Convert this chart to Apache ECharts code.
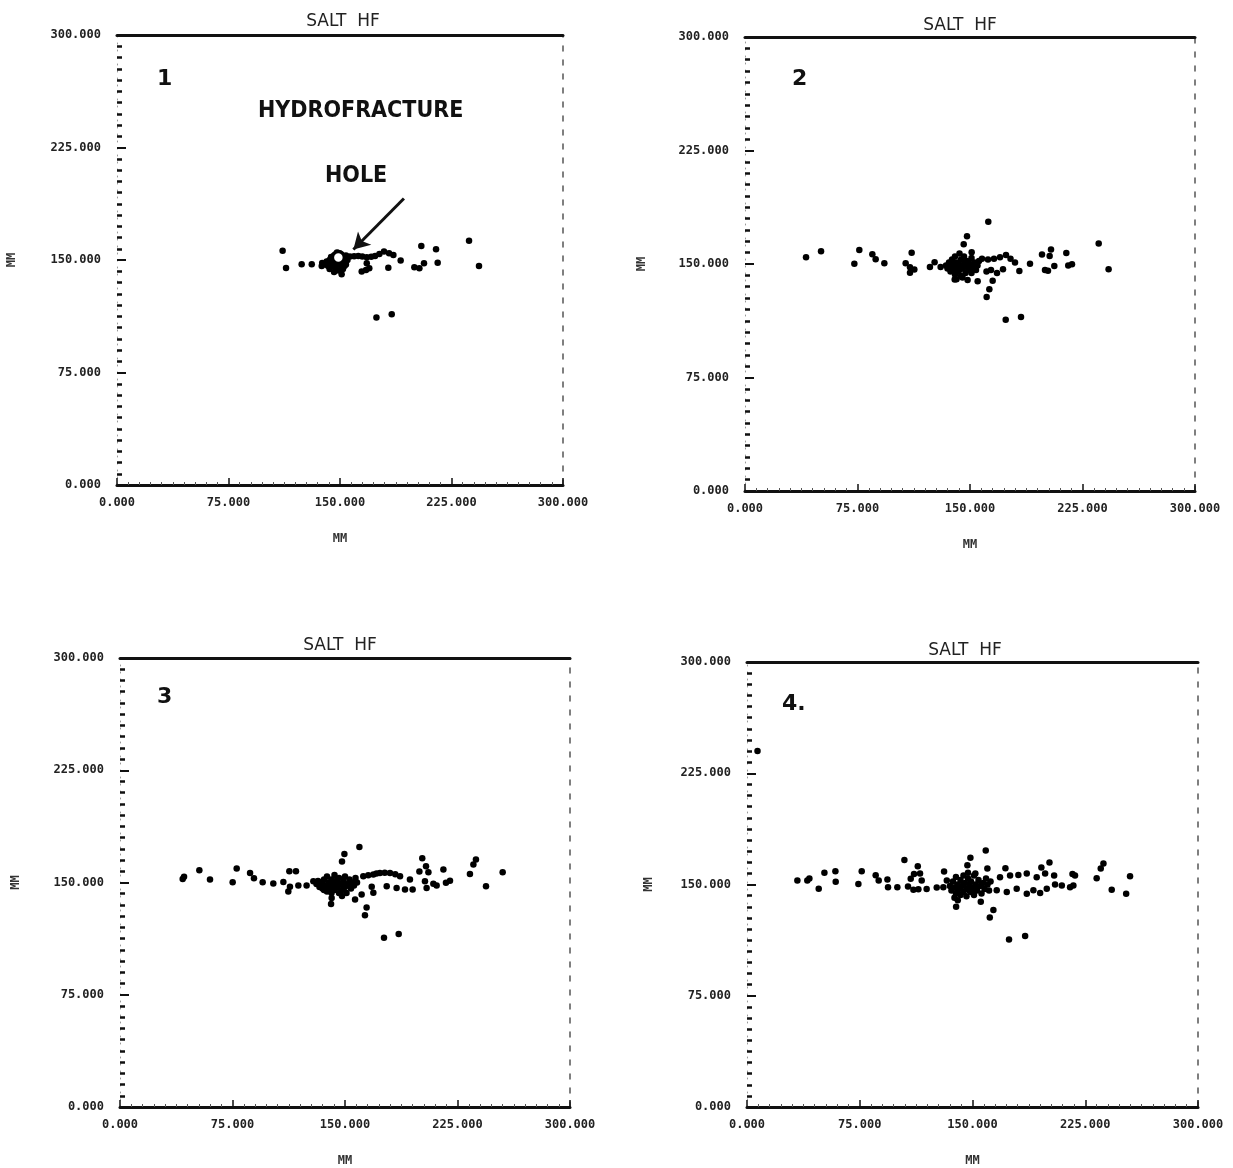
<!DOCTYPE html>
<html>
<head>
<meta charset="utf-8">
<script src="https://cdn.jsdelivr.net/npm/echarts@6/dist/echarts.min.js"></script>
<style>
html,body{margin:0;padding:0;background:#fff;}
#chart{width:1233px;height:1168px;}
</style>
</head>
<body>
<div id="chart"></div>
<script>
// ---- DATA (values in MM) ----
const tickValues = [0, 75, 150, 225, 300];
const panelTitle = 'SALT  HF';
const axisName = 'MM';

const panel1Points = [
  [111.4,156.2],[113.7,144.7],[124.2,147.1],[131,147.1],[137.7,146],
  [138,148],[140,147],[141,149],[142,146],[143,150],[144,148],[145,146],[145,151],[146,153],[147,149],
  [147,145],[148,155],[149,147],[149,143],[150,150],[150,154],[151,146],[152,152],[152,144],[153,149],
  [154,147],[154,153],[155,150],[144,152],[146,142],[151.1,140.5],[143,144],[151,148],[153,146],
  [156.7,152.3],[162.3,152.7],[168,151.8],[173.6,152.7],[179.6,155.6],[185.9,153.4],
  [159.5,152.5],[165,152.3],[171,152.2],[176.5,154],[183,154.5],
  [168,147.8],[164.6,142.3],[167.5,143.4],[169.7,144.5],[182.5,144.9],[190.8,149.6],
  [200,145.1],[203.4,144.5],[206.5,147.8],[204.7,159.4],[214.6,157.1],[215.7,148.2],
  [236.8,162.9],[243.5,146],[174.5,111.6],[184.8,113.8]
];
const panel1Hole = [[148.9,151.6]];

const panel2Points = [
  [40.7,154.4],[50.7,158.4],[72.9,150.2],[76.2,159.3],[84.9,156.4],[87.1,153.1],[92.9,150.5],
  [107.1,150.5],[110,147.9],[112.9,146.3],[110,144.3],[111.1,157.5],[123.3,148],[126.4,151.2],
  [130.4,148],[135.6,148.9],
  [134,149],[135,147],[136,151],[137,148],[137,145],[138,153],[139,150],[139,146],[140,143],[140,155],
  [141,148],[142,151],[142,145],[143,157],[143,149],[144,153],[144,142],[145,147],[146,150],[146,155],
  [147,144],[148,148],[148,152],[149,146],[150,150],[151,144],[151,154],[152,148],[153,151],[154,146],
  [155,149],[156,152],[141,140],[145,141],[138,147],[140,151],[143,146],[147,151],[150,146],[153,148],
  [139.8,139.7],[145.8,163],[148,168.3],[151.1,157.7],[148.4,139.4],[155.1,138.6],[162.2,178],
  [162.9,133.3],[161.1,128.2],[165.1,139],
  [158,153.5],[162,153],[166,153.5],[170,154.5],[174,156],[177,153.5],[180,151],
  [161,145],[164,146],[168,144],[172,146.5],[182.9,145.4],
  [173.8,113.2],[184,115],[190,150.2],[198,156.2],[203.1,155.3],[204,159.5],[200,146.1],[202,145.6],
  [206.2,148.7],[214.2,157.3],[215.5,149],[218,149.8],[235.8,163.5],[242.4,146.5]
];

const panel3Points = [
  [41.8,152.4],[42.7,153.8],[52.9,158.2],[60,152],[77.8,159.3],[75.1,150.2],[86.7,156.4],[89.3,152.9],
  [95.1,150.2],[102.2,149.3],[108.9,150.4],[112.9,157.6],[117.3,157.6],[112.2,144],[113.3,147.1],
  [118.9,148],[124.4,148],[128.9,150.9],
  [131,149],[132,151],[133,147],[134,150],[135,146],[136,152],[137,148],[138,144],[138,154],[139,150],
  [140,146],[141,152],[141,143],[142,149],[143,155],[143,145],[144,151],[145,147],[146,153],[146,143],
  [147,149],[148,145],[149,151],[150,147],[150,154],[151,143],[152,149],[153,152],[154,146],[155,150],
  [156,148],[157,153],[158,150],[136,145],[148,141],[135,149],[139,147],[144,148],[149,148],[153,149],
  [148,164],[149.6,169.1],[159.6,173.8],[141.1,139.6],[140.7,135.6],[156.7,138.7],[164.4,133.3],
  [163.3,128.2],[161.1,142],[167.8,147.1],[168.9,143.1],
  [162.2,154.2],[168.9,155.3],[173.3,156.4],[180,156.4],[186.7,154.2],[193.3,152],
  [165.5,154.8],[171,156],[176.5,156.5],[183.5,155.5],
  [177.8,147.5],[184.4,146.4],[190,145.3],[195.1,145.3],
  [176,113.1],[185.8,115.6],[201.5,166.2],[199.6,157.3],[204,160.9],[205.6,156.9],[203.3,150.9],
  [204.4,146.4],[208.9,149.1],[211.1,148],[215.6,158.7],[217.3,149.8],[220,151.1],[233.3,155.6],
  [235.6,162],[237.3,165.3],[244,147.5],[255.1,156.9]
];

const panel4Points = [
  [7,240],
  [33.5,152.7],[40.1,152.7],[41.5,154],[47.7,147.1],[51.5,157.9],[58.8,159],[59,151.8],[74.1,150.4],
  [76.3,159],[85.6,156.2],[87.6,152.7],[93.4,153.3],[93.8,148.2],[100,148.2],[104.7,166.5],
  [107.1,148.6],[110.7,146.4],[114,146.8],[119.5,147],[126.2,148],[130.6,148.2],
  [108.9,153.8],[111.1,157.1],[115.1,157.5],[113.6,162.3],[116.2,152.7],[131.1,158.8],[132.9,152.7],
  [135,149],[136,146],[137,152],[138,148],[139,144],[139,155],[140,150],[141,147],[142,153],[142,143],
  [143,149],[144,156],[144,145],[145,151],[146,147],[146,142],[147,154],[148,149],[149,145],[149,152],
  [150,148],[151,156],[151,143],[152,150],[153,146],[154,153],[155,149],[156,144],[157,151],[158,147],
  [159,154],[160,150],[161,146],[162,152],[138,141],[147,158],[140,147],[144,150],[148,146],[152,147],
  [146.6,163],[148.6,168.1],[158.8,172.9],[159.9,160.8],[140.2,139.4],[139.1,135],[155.5,138.3],
  [163.9,132.8],[161.5,127.8],[151.9,157.5],[171.9,161],
  [168.3,154.9],[175,156],[180.5,156.4],[186.1,157.5],
  [166.1,146.1],[172.8,145],[179.4,147.1],[186.1,143.8],[190.5,146.1],
  [192.7,154.9],[195.8,161.5],[201.2,164.8],[198.3,157.5],[204.3,156],
  [195,144.3],[199.4,147.1],[204.9,150],[209.4,149.3],
  [216.5,157],[218.2,156],[217.1,149.3],[214.9,148.2],[232.6,154.2],[235.3,160.8],[237.1,164.1],
  [242.6,146.5],[252.2,143.8],[254.8,155.5],[174.3,113],[185,115.2]
];

// ---- LAYOUT ----
const grids = [
  {left:117, top:35,  width:446, height:450, yNameGap:99},
  {left:745, top:37,  width:450, height:454, yNameGap:97},
  {left:120, top:658, width:450, height:450, yNameGap:98},
  {left:747, top:662, width:451, height:454, yNameGap:92}
];
const titlePos = [[338,8],[955,12],[335,632],[960,637]];

const labelFont = {fontFamily:'DejaVu Sans Mono', fontWeight:'bold', fontSize:12, color:'#222'};
const fmt = v => v.toFixed(3);

const xAxes = [], yAxes = [], series = [], titles = [];
grids.forEach((g, i) => {
  xAxes.push({
    gridIndex:i, type:'value', min:0, max:300, interval:75, position:'bottom',
    name:axisName, nameLocation:'middle', nameGap:48,
    nameTextStyle:{fontFamily:'DejaVu Sans Mono', fontWeight:'bold', fontSize:12, color:'#333'},
    axisLine:{show:true, onZero:false, lineStyle:{color:'#111', width:3}},
    axisTick:{show:true, inside:true, length:7, lineStyle:{color:'#111', width:1.5}},
    minorTick:{show:true, splitNumber:10, length:3, lineStyle:{color:'#555', width:1}},
    axisLabel:Object.assign({margin:12, formatter:fmt, showMinLabel:true, showMaxLabel:true}, labelFont),
    splitLine:{show:false}
  });
  xAxes.push({
    gridIndex:i, type:'value', min:0, max:300, position:'top',
    axisLine:{show:true, onZero:false, lineStyle:{color:'#111', width:3}},
    axisTick:{show:false}, axisLabel:{show:false}, splitLine:{show:false}
  });
  yAxes.push({
    gridIndex:i, type:'value', min:0, max:300, interval:75, position:'left',
    name:axisName, nameLocation:'middle', nameGap:g.yNameGap, nameRotate:90,
    nameTextStyle:{fontFamily:'DejaVu Sans Mono', fontWeight:'bold', fontSize:12, color:'#333'},
    axisLine:{show:true, onZero:false, lineStyle:{color:'#999', width:1, type:[1,6]}},
    axisTick:{show:true, inside:true, length:9, lineStyle:{color:'#111', width:2}},
    minorTick:{show:true, splitNumber:10, length:5, lineStyle:{color:'#111', width:2.5}},
    axisLabel:Object.assign({margin:16, formatter:fmt}, labelFont),
    splitLine:{show:false}
  });
  yAxes.push({
    gridIndex:i, type:'value', min:0, max:300, position:'right',
    axisLine:{show:true, onZero:false, lineStyle:{color:'#555', width:1.5, type:[5,9]}},
    axisTick:{show:false}, axisLabel:{show:false}, splitLine:{show:false}
  });
  titles.push({
    text:panelTitle, left:titlePos[i][0], top:titlePos[i][1], textAlign:'center',
    textStyle:{fontFamily:'DejaVu Sans', fontWeight:'normal', fontSize:17, color:'#222'}
  });
});

const allPoints = [panel1Points, panel2Points, panel3Points, panel4Points];
allPoints.forEach((pts, i) => {
  series.push({
    type:'scatter', xAxisIndex:2*i, yAxisIndex:2*i, data:pts,
    symbol:'circle', symbolSize:6.5, itemStyle:{color:'#000', opacity:1}, silent:true
  });
});
series.push({
  type:'scatter', xAxisIndex:0, yAxisIndex:0, data:panel1Hole,
  symbol:'circle', symbolSize:12, itemStyle:{color:'#fff', borderColor:'#000', borderWidth:3.5, opacity:1}, z:10,
  silent:true,
  markLine:{
    silent:true, symbol:['none','arrow'], symbolSize:[14,16],
    lineStyle:{color:'#111', width:3, type:'solid'}, label:{show:false},
    data:[[{coord:[193,191]},{coord:[159,157]}]]
  }
});

const boldTxt = (t, x, y, size) => ({
  type:'text', left:x, top:y,
  style:{text:t, fill:'#111', font:'bold '+size+'px "DejaVu Sans"'}
});

const option = {
  animation:false,
  backgroundColor:'#fff',
  title:titles,
  grid:grids.map(g => ({left:g.left, top:g.top, width:g.width, height:g.height, containLabel:false})),
  xAxis:xAxes,
  yAxis:yAxes,
  series:series,
  graphic:[
    boldTxt('1', 157, 68, 22),
    {type:'text', left:258, top:100, style:{text:'HYDROFRACTURE', fill:'#111', font:'bold 23px "DejaVu Sans Condensed", "DejaVu Sans"'}},
    {type:'text', left:325, top:165, style:{text:'HOLE', fill:'#111', font:'bold 23px "DejaVu Sans Condensed", "DejaVu Sans"'}},
    boldTxt('2', 792, 68, 22),
    boldTxt('3', 157, 686, 22),
    boldTxt('4.', 782, 693, 22)
  ]
};

const chart = echarts.init(document.getElementById('chart'), null, {renderer:'canvas'});
chart.setOption(option);
</script>
</body>
</html>
